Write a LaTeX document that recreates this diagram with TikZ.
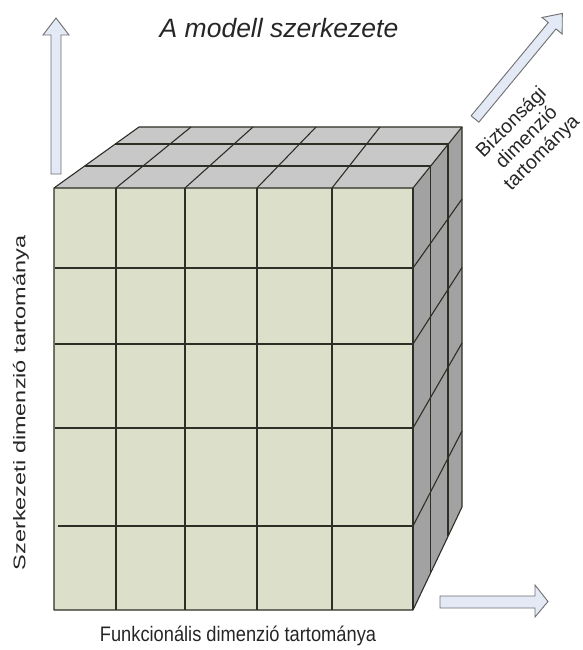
\documentclass[tikz,border=0pt]{standalone}
\usepackage{fontspec}
\setmainfont{Liberation Sans}
\definecolor{frontc}{HTML}{DCDFCA}
\definecolor{topc}{HTML}{C8C8C8}
\definecolor{sidec}{HTML}{A2A2A2}
\definecolor{linec}{HTML}{2E2E26}
\definecolor{arrowfill}{HTML}{E3E9F5}
\definecolor{arrowline}{HTML}{6E6E6E}
\tikzset{
  gridline/.style={draw=linec, line width=1.1pt},
  blockarrow/.style={fill=arrowfill, draw=arrowline, line width=0.9pt, line join=miter},
  lbl/.style={inner sep=0pt, text=black!85}
}
\begin{document}
\begin{tikzpicture}[x=1pt,y=-1pt]
\useasboundingbox (0,0) rectangle (582,650);
% faces
\fill[frontc] (54,188) rectangle (413,610);
\fill[topc] (54,188) -- (139,127) -- (462,127) -- (413,188) -- cycle;
\fill[sidec] (413,188) -- (462,127) -- (462,507) -- (413,610) -- cycle;
% front grid
\foreach \x in {116,185,257,332} \draw[gridline] (\x,188) -- (\x,610);
\foreach \y in {268,344,428} \draw[gridline] (55,\y) -- (413,\y);
\draw[gridline] (58,526) -- (413,526);
% top grid
\draw[gridline] (85,166) -- (430.6,166);
\draw[gridline] (115,144) -- (448,144);
\draw[gridline] (116,188) -- (191,127);
\draw[gridline] (185,188) -- (253,127);
\draw[gridline] (257,188) -- (316,127);
\draw[gridline] (332,188) -- (380,127);
% side grid
\draw[gridline] (430.6,166) -- (430.6,573);
\draw[gridline] (448,144) -- (448,536);
\draw[gridline] (413,268) -- (462,199);
\draw[gridline] (413,344) -- (462,267.5);
\draw[gridline] (413,428) -- (462,343);
\draw[gridline] (413,526) -- (462,431);
% outline
\draw[gridline, line join=round] (54,188) -- (139,127) -- (462,127) -- (462,507) -- (413,610) -- (54,610) -- cycle;
\draw[gridline] (54,188) -- (413,188) -- (462,127);
\draw[gridline] (413,188) -- (413,610);
% arrows
\draw[blockarrow] (51,174) -- (51,35) -- (43,35) -- (56,18) -- (69,35) -- (61,35) -- (61,174) -- cycle;
\draw[blockarrow] (440,596) -- (535,596) -- (535,585) -- (548,601.5) -- (535,617) -- (535,608) -- (440,608) -- cycle;
\begin{scope}[shift={(475,119)}, rotate=50.4]
\draw[blockarrow] (0,-5) -- (121,-5) -- (121,-13) -- (137,0) -- (121,13) -- (121,5) -- (0,5) -- cycle;
\end{scope}
% texts
\node[lbl, font=\fontsize{26.5}{30}\selectfont\itshape] (title) at (279,28) {A modell szerkezete};
\node[lbl, font=\fontsize{21}{25}\selectfont, xscale=0.87] (fx) at (238,636) {Funkcionális dimenzió tartománya};
\node[lbl, font=\fontsize{23.5}{26}\selectfont, rotate=90, yscale=0.72] (sz) at (21,403) {Szerkezeti dimenzió tartománya};
\node[lbl, font=\fontsize{19.5}{21.5}\selectfont, align=center, rotate=45] (bz) at (527,138) {Biztonsági\\dimenzió\\tartománya};
\end{tikzpicture}
\end{document}
